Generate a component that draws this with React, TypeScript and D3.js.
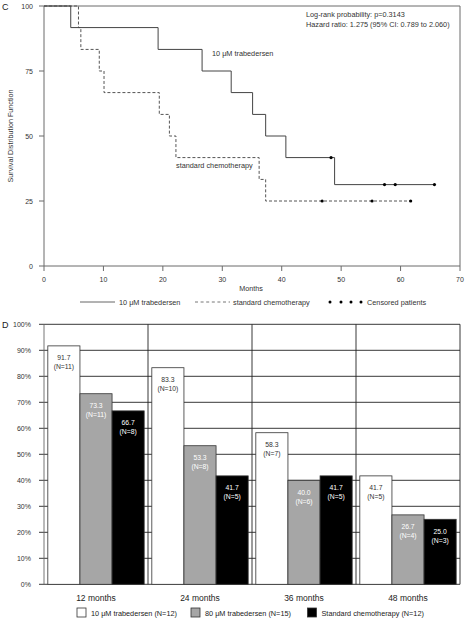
import React from "react";
import * as d3 from "d3";

// ---------- Panel C data (Kaplan-Meier) ----------
const trabTimes = [0, 4.5, 19.2, 26.6, 31.5, 35.1, 37.3, 40.7, 48.9];
const trabSurv = [100, 91.7, 83.3, 75, 66.7, 58.3, 50, 41.7, 31.3];
const trabEnd = 65.7;
const trabCensTimes = [48.3, 57.3, 59.1, 65.7];
const trabCensSurv = [41.7, 31.3, 31.3, 31.3];

const chemoTimes = [0, 5.8, 6.2, 9.3, 10.1, 19.4, 21.1, 22.2, 36.2, 37.3];
const chemoSurv = [100, 91.7, 83.3, 75, 66.7, 58.3, 50, 41.7, 33.3, 25];
const chemoEnd = 61.7;
const chemoCensTimes = [46.8, 55.2, 61.7];
const chemoCensSurv = [25, 25, 25];

const kmXTicks = [0, 10, 20, 30, 40, 50, 60, 70];
const kmYTicks = [0, 25, 50, 75, 100];

// ---------- Panel D data (bars) ----------
const categories = ["12 months", "24 months", "36 months", "48 months"];
const seriesNames = [
  "10 μM trabedersen (N=12)",
  "80 μM trabedersen (N=15)",
  "Standard chemotherapy (N=12)",
];
const trab10Vals = [91.7, 83.3, 58.3, 41.7];
const trab10N = [11, 10, 7, 5];
const trab80Vals = [73.3, 53.3, 40.0, 26.7];
const trab80N = [11, 8, 6, 4];
const chemoVals = [66.7, 41.7, 41.7, 25.0];
const chemoN = [8, 5, 5, 3];
const barYTicks = [0, 10, 20, 30, 40, 50, 60, 70, 80, 90, 100];

const FONT = "Liberation Sans, Arial, Helvetica, sans-serif";
const AXIS = "#6a6a6a";
const TRAB_LABEL = "10 μM trabedersen";

export default function App() {
  // ---- KM scales
  const kx = d3.scaleLinear().domain([0, 70]).range([44, 460]);
  const ky = d3.scaleLinear().domain([0, 100]).range([266, 6]);

  const stepLine = d3
    .line<[number, number]>()
    .x((d) => kx(d[0]))
    .y((d) => ky(d[1]))
    .curve(d3.curveStepAfter);

  const trabPts: [number, number][] = trabTimes.map((t, i) => [t, trabSurv[i]]);
  trabPts.push([trabEnd, trabSurv[trabSurv.length - 1]]);
  const chemoPts: [number, number][] = chemoTimes.map((t, i) => [t, chemoSurv[i]]);
  chemoPts.push([chemoEnd, chemoSurv[chemoSurv.length - 1]]);

  // ---- Bar scales
  const bx = d3.scaleBand().domain(categories).range([44, 460]).paddingInner(0).paddingOuter(0);
  const by = d3.scaleLinear().domain([0, 100]).range([584.3, 324.3]);
  const inner = d3
    .scaleBand()
    .domain(["a", "b", "c"])
    .range([0, bx.bandwidth()])
    .paddingInner(0)
    .paddingOuter(0.119);

  const series = [
    { key: "a", vals: trab10Vals, ns: trab10N, fill: "#ffffff", text: "#333" },
    { key: "b", vals: trab80Vals, ns: trab80N, fill: "#a6a6a6", text: "#fff" },
    { key: "c", vals: chemoVals, ns: chemoN, fill: "#000000", text: "#fff" },
  ];

  return (
    <svg
      width={465}
      height={618}
      style={{ position: "absolute", left: 0, top: 0, background: "#fff" }}
      fontFamily={FONT}
    >
      {/* ================= Panel C ================= */}
      <text x={2} y={10} fontSize={9} fill="#222">C</text>

      {/* frame */}
      <line x1={kx(0)} x2={kx(70)} y1={ky(100)} y2={ky(100)} stroke={AXIS} strokeWidth={1} />
      <line x1={kx(70)} x2={kx(70)} y1={ky(100)} y2={ky(0)} stroke={AXIS} strokeWidth={1} />
      <line x1={kx(0)} x2={kx(0)} y1={ky(100)} y2={ky(0)} stroke={AXIS} strokeWidth={1} />
      <line x1={kx(0)} x2={kx(70)} y1={ky(0)} y2={ky(0)} stroke={AXIS} strokeWidth={1} />

      {kmYTicks.map((v) => (
        <g key={"ky" + v}>
          <line x1={kx(0) - 5} x2={kx(0)} y1={ky(v)} y2={ky(v)} stroke={AXIS} />
          <text x={33} y={ky(v) + 2.5} fontSize={7} textAnchor="end" fill="#333">{v}</text>
        </g>
      ))}
      {kmXTicks.map((v) => (
        <g key={"kx" + v}>
          <line x1={kx(v)} x2={kx(v)} y1={ky(0)} y2={ky(0) + 5} stroke={AXIS} />
          <text x={kx(v)} y={ky(0) + 16} fontSize={7} textAnchor="middle" fill="#333">{v}</text>
        </g>
      ))}
      <text x={251} y={291} fontSize={7.2} textAnchor="middle" fill="#333">Months</text>
      <text
        transform={`translate(13,${ky(50)}) rotate(-90)`}
        fontSize={7.2}
        textAnchor="middle"
        fill="#333"
      >
        Survival Distribution Function
      </text>

      {/* curves */}
      <path d={stepLine(chemoPts) || ""} fill="none" stroke="#555" strokeWidth={1} strokeDasharray="3,2" />
      <path d={stepLine(trabPts) || ""} fill="none" stroke="#444" strokeWidth={1} />
      {trabCensTimes.map((t, i) => (
        <circle key={"tc" + i} cx={kx(t)} cy={ky(trabCensSurv[i])} r={1.6} fill="#000" />
      ))}
      {chemoCensTimes.map((t, i) => (
        <circle key={"cc" + i} cx={kx(t)} cy={ky(chemoCensSurv[i])} r={1.6} fill="#000" />
      ))}

      {/* annotations */}
      <text x={306} y={17} fontSize={7.3} fill="#333">Log-rank probability: p=0.3143</text>
      <text x={306} y={27} fontSize={7.3} fill="#333">Hazard ratio: 1.275 (95% CI: 0.789 to 2.060)</text>
      <text x={212} y={56} fontSize={7.3} fill="#333">{TRAB_LABEL}</text>
      <text x={176} y={167.5} fontSize={7.3} fill="#333">standard chemotherapy</text>

      {/* legend */}
      <line x1={80} x2={115} y1={302} y2={302} stroke="#666" strokeWidth={1} />
      <text x={119} y={304.5} fontSize={7.3} fill="#333">{TRAB_LABEL}</text>
      <line x1={195} x2={230} y1={302} y2={302} stroke="#777" strokeWidth={1} strokeDasharray="3,2.6" />
      <text x={233} y={304.5} fontSize={7.3} fill="#333">standard chemotherapy</text>
      {[330, 341, 351, 361].map((x) => (
        <circle key={"lc" + x} cx={x} cy={302} r={1.5} fill="#000" />
      ))}
      <text x={367} y={304.5} fontSize={7.3} fill="#333">Censored patients</text>

      {/* ================= Panel D ================= */}
      <text x={2} y={328} fontSize={9} fill="#222">D</text>

      {barYTicks.map((v) => (
        <g key={"by" + v}>
          <line x1={39} x2={460} y1={by(v)} y2={by(v)} stroke="#222" strokeWidth={0.9} />
          <text x={31} y={by(v) + 2.5} fontSize={7} textAnchor="end" fill="#333">{v}%</text>
        </g>
      ))}
      {[0, 1, 2, 3, 4].map((i) => {
        const x = i < 4 ? (bx(categories[i]) as number) : 460;
        return (
          <line key={"vd" + i} x1={x} x2={x} y1={by(100)} y2={by(0)} stroke={i === 0 ? "#666" : "#222"} strokeWidth={0.9} />
        );
      })}

      {categories.map((c, ci) => {
        const x0 = bx(c) as number;
        return (
          <g key={c}>
            {series.map((s) => {
              const x = x0 + (inner(s.key) as number);
              const w = inner.bandwidth();
              const top = by(s.vals[ci]);
              return (
                <g key={s.key}>
                  <rect
                    x={x}
                    y={top}
                    width={w}
                    height={by(0) - top}
                    fill={s.fill}
                    stroke="#333"
                    strokeWidth={0.8}
                  />
                  <text x={x + w / 2} y={top + 14.5} fontSize={6.8} textAnchor="middle" fill={s.text}>
                    {s.vals[ci].toFixed(1)}
                  </text>
                  <text x={x + w / 2} y={top + 23.5} fontSize={6.8} textAnchor="middle" fill={s.text}>
                    (N={s.ns[ci]})
                  </text>
                </g>
              );
            })}
            <text x={x0 + bx.bandwidth() / 2} y={600.5} fontSize={8.5} textAnchor="middle" fill="#222">
              {c}
            </text>
          </g>
        );
      })}

      {/* bar legend */}
      {[
        { x: 77, fill: "#ffffff", label: seriesNames[0] },
        { x: 191, fill: "#a6a6a6", label: seriesNames[1] },
        { x: 307.5, fill: "#000000", label: seriesNames[2] },
      ].map((l) => (
        <g key={l.label}>
          <rect x={l.x} y={608} width={9} height={9} fill={l.fill} stroke="#333" strokeWidth={0.8} />
          <text x={l.x + 14} y={615.5} fontSize={7.3} fill="#222">{l.label}</text>
        </g>
      ))}
    </svg>
  );
}
